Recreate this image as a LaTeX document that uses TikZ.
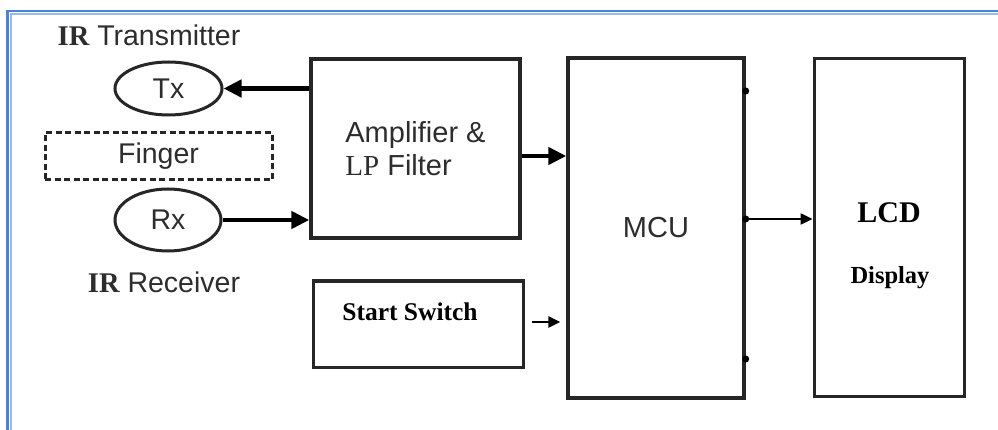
\documentclass[tikz,border=0pt]{standalone}
\usepackage{fontspec}
\setmainfont{Liberation Sans}
\newfontfamily\seriffont{Liberation Serif}
\usetikzlibrary{arrows.meta,shapes.geometric}
\definecolor{frameA}{RGB}{79,129,209}
\definecolor{frameB}{RGB}{150,185,235}
\definecolor{txtgray}{RGB}{45,45,45}
\begin{document}
\begin{tikzpicture}[x=1pt,y=-1pt,
  blk/.style={draw=black!85, line width=3.4pt, inner sep=0pt, text=txtgray},
  ell/.style={draw=black!85, line width=3pt, ellipse, inner sep=0pt, text=txtgray,
    font=\fontsize{28.5}{30}\selectfont},
  sanstxt/.style={inner sep=0pt, text=txtgray, font=\fontsize{28.5}{30}\selectfont},
  seriftxt/.style={inner sep=0pt, text=black},
  thickarrow/.style={draw=black, line width=4.6pt, -{Triangle[length=18pt,width=17pt]}},
  thinarrow/.style={draw=black, line width=2.4pt, -{Triangle[length=12pt,width=11pt]}}
]
\useasboundingbox (0,0) rectangle (998,430);
\fill[white] (0,0) rectangle (998,430);
% blue frame (top and left edges)
\draw[frameA, line width=2.6pt] (7.5,430) -- (7.5,11) -- (998,11);
\draw[frameB, line width=1.8pt] (10.8,430) -- (10.8,14.3) -- (998,14.3);

% blocks
\node[blk, minimum width=209, minimum height=179, align=left,
      font=\fontsize{29}{33}\selectfont] (amp) at (415.5,148.5)
      {Amplifier \&\\{\seriffont LP} Filter};
\node[blk, minimum width=176, minimum height=340, font=\fontsize{29}{30}\selectfont]
      (mcu) at (656,228) {MCU};
\node[blk, line width=3pt, minimum width=150, minimum height=337] (lcd) at (889,227.5) {};
\node[blk, line width=3pt, minimum width=210, minimum height=86] (ss) at (418,324) {};
\node[blk, dashed, line width=3pt, dash pattern=on 6pt off 3.5pt, minimum width=227,
      minimum height=47, font=\fontsize{28.5}{30}\selectfont] (finger) at (158.5,156.5) {Finger};
\node[ell, minimum width=107, minimum height=53] (tx) at (168.5,88.5) {Tx};
\node[ell, minimum width=106, minimum height=62] (rx) at (168,220) {Rx};

% texts
\node[sanstxt] (irtx) at (149,35) {{\seriffont\bfseries IR} Transmitter};
\node[sanstxt] (irrx) at (164,282) {{\seriffont\bfseries IR} Receiver};
\node[seriftxt, font=\seriffont\bfseries\fontsize{30}{32}\selectfont] (lcdt) at (889,213) {LCD};
\node[seriftxt, font=\seriffont\bfseries\fontsize{24.5}{26}\selectfont] (dispt) at (890,278) {Display};
\node[seriftxt, font=\seriffont\bfseries\fontsize{25.5}{27}\selectfont] (sst) at (410,312) {Start Switch};

% connectors
\coordinate (a1) at (520,156);
\coordinate (a2) at (744,219);
\coordinate (a3) at (530,322);
\draw[thickarrow] (amp.west |- tx.east) -- (tx.east);
\draw[thickarrow] (rx.east) -- (amp.west |- rx.east);
\draw[thickarrow] (amp.east |- a1) -- (mcu.west |- a1);
\draw[thinarrow] (mcu.east |- a2) -- (lcd.west |- a2);
\draw[thinarrow, shorten <=7pt, shorten >=6pt] (ss.east |- a3) -- (mcu.west |- a3);

% dots on MCU right edge
\coordinate (d1) at (744,91);
\coordinate (d3) at (744,359);
\fill (mcu.east |- d1) circle (3.5);
\fill (mcu.east |- a2) circle (3.5);
\fill (mcu.east |- d3) circle (3.5);
\end{tikzpicture}
\end{document}
